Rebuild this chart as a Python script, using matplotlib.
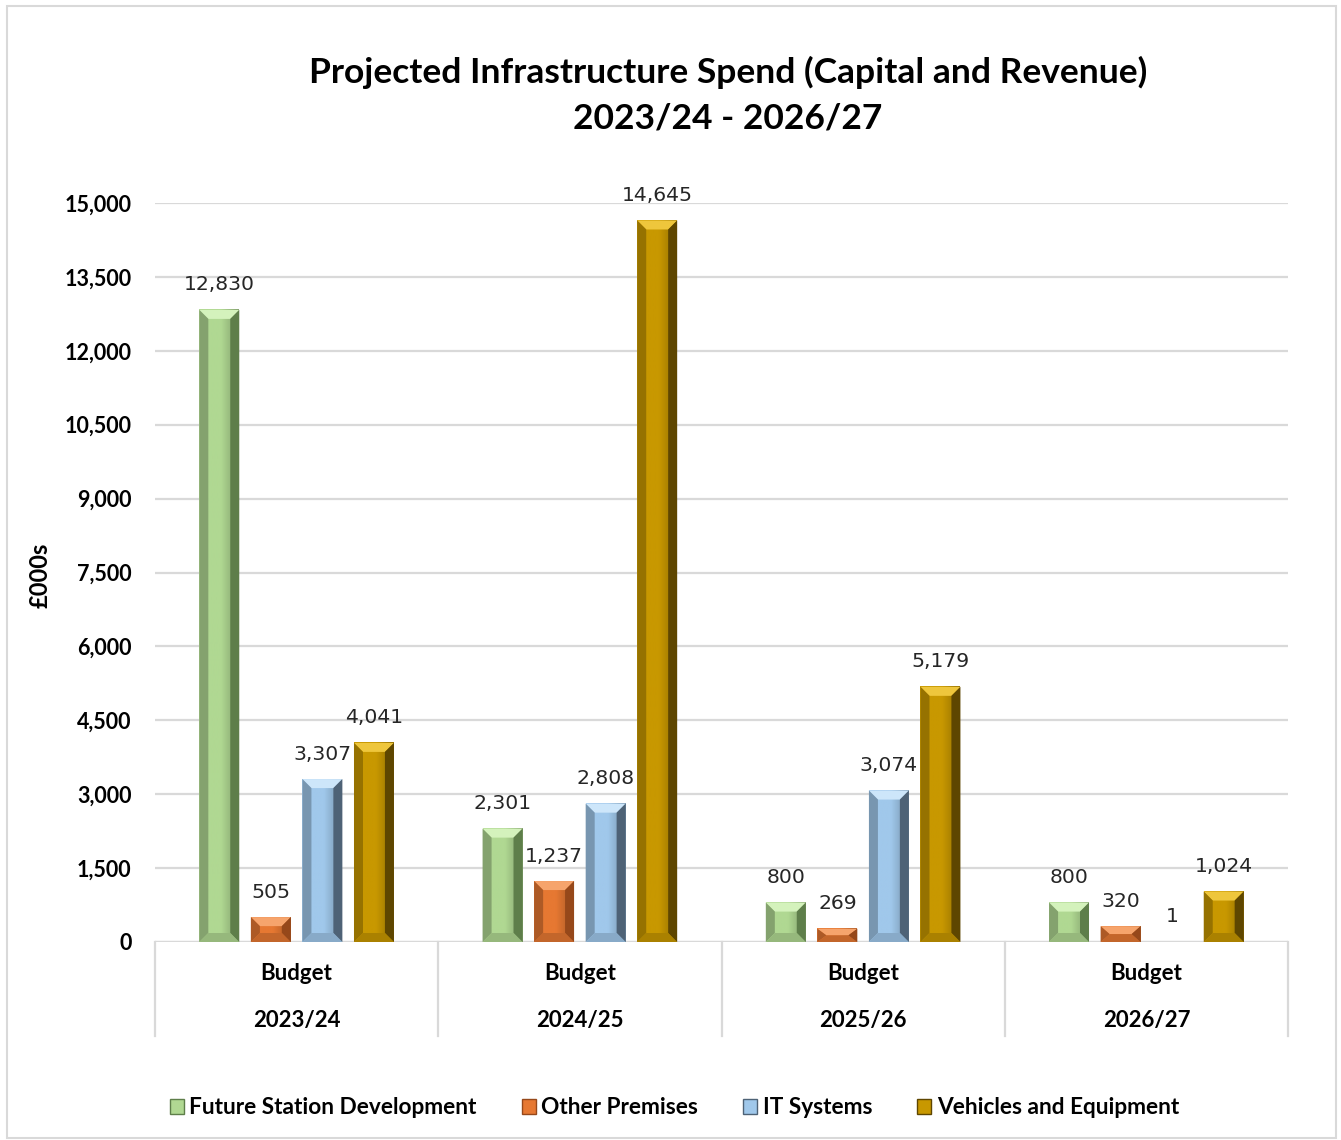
import matplotlib
matplotlib.use("Agg")
import matplotlib.pyplot as plt
import numpy as np
from matplotlib.patches import Polygon, Rectangle, Patch
from matplotlib.colors import to_rgb
import matplotlib.transforms as mtransforms

years = ["2023/24", "2024/25", "2025/26", "2026/27"]
series = ["Future Station Development", "Other Premises", "IT Systems", "Vehicles and Equipment"]
future_station = [12830, 2301, 800, 800]
other_premises = [505, 1237, 269, 320]
it_systems = [3307, 2808, 3074, 1]
vehicles = [4041, 14645, 5179, 1024]
values = [future_station, other_premises, it_systems, vehicles]

face_cols = ["#B0D892", "#E67832", "#A0C8EB", "#C89800"]
top_cols = ["#D4F2BC", "#F6A46C", "#CDE6FA", "#EEC63C"]
side_cols = ["#5E7E4A", "#96481A", "#4E6276", "#5E4600"]

BG = "#D9D9D9"
plt.rcParams["font.family"] = ["DejaVu Sans"]

fig = plt.figure(figsize=(13.41, 11.40), dpi=100)
ax = fig.add_axes([155 / 1341, 198 / 1140, 1133 / 1341, 739 / 1140])
ax.set_xlim(-0.5, 3.5)
ax.set_ylim(0, 15000)


def mix(c, other, t):
    a = np.array(to_rgb(c))
    b = np.array(to_rgb(other))
    return tuple(a * (1 - t) + b * t)


def bevel_bar(ax, x0, width, height, face, top, side, bev_px=9):
    p0 = ax.transData.transform((0, 0))
    p1 = ax.transData.transform((1, 1))
    bx = bev_px / (p1[0] - p0[0])
    if height * (p1[1] - p0[1]) < 1:
        return  # too thin to show
    by = min(bev_px / (p1[1] - p0[1]), height / 2)
    x1 = x0 + width
    y0, y1 = 0, height
    # face with shading towards the right edge
    grad = np.linspace(0, 1, 64)
    shade = np.array([mix(face, "black", max(0, g - 0.55) * 0.6) for g in grad])
    ax.imshow(shade[np.newaxis, :, :], extent=(x0, x1, y0, y1), aspect="auto",
              zorder=3, interpolation="bilinear")
    polys = [
        ([(x0, y1), (x1, y1), (x1 - bx, y1 - by), (x0 + bx, y1 - by)], top),
        ([(x0, y0), (x0, y1), (x0 + bx, y1 - by), (x0 + bx, y0 + by)], mix(face, "black", 0.25)),
        ([(x1, y0), (x1, y1), (x1 - bx, y1 - by), (x1 - bx, y0 + by)], side),
        ([(x0, y0), (x1, y0), (x1 - bx, y0 + by), (x0 + bx, y0 + by)], mix(face, "black", 0.15)),
    ]
    for pts, col in polys:
        ax.add_patch(Polygon(pts, closed=True, facecolor=col, edgecolor="none", zorder=4))


group_x = np.arange(len(years))
bar_w = 0.141
step = 0.182
for i, vals in enumerate(values):
    offs = (i - 1.5) * step
    for gx, v in zip(group_x, vals):
        x0 = gx + offs - bar_w / 2
        bevel_bar(ax, x0, bar_w, v, face_cols[i], top_cols[i], side_cols[i])
        ax.annotate(f"{v:,}", (gx + offs, v), xytext=(0, 18), textcoords="offset points",
                    ha="center", va="center", fontsize=14.7, color="#262626", zorder=6)

ax.set_yticks(np.arange(0, 15001, 1500))
ax.set_yticklabels([f"{t:,}" for t in range(0, 15001, 1500)], family="Lato",
                   fontweight="bold", fontsize=15.5)
ax.tick_params(axis="y", length=0, pad=17)
ax.set_xticks([])
ax.grid(axis="y", color=BG, linewidth=1.6, zorder=0)
ax.set_axisbelow(True)
for s in ax.spines.values():
    s.set_visible(False)
ax.axhline(0, color=BG, linewidth=1.6, zorder=2)

# category axis separators and two-level labels
trans = mtransforms.blended_transform_factory(ax.transData, ax.transAxes)
for xs in np.arange(-0.5, len(years), 1.0):
    ax.plot([xs, xs], [0, -94 / 739], transform=trans, color=BG, linewidth=1.6, clip_on=False)
for gx, yr in zip(group_x, years):
    ax.text(gx, -32 / 739, "Budget", transform=trans, ha="center", va="center",
            family="Lato", fontweight="bold", fontsize=16)
    ax.text(gx, -78 / 739, yr, transform=trans, ha="center", va="center",
            family="Lato", fontweight="bold", fontsize=16)

fig.text(0.543, 1 - 95 / 1140, "Projected Infrastructure Spend (Capital and Revenue)\n2023/24 - 2026/27",
         ha="center", va="center", family="Lato", fontweight="bold", fontsize=25.5, linespacing=1.5)
fig.text(40 / 1341, 1 - 575 / 1140, "£000s", rotation=90, ha="center", va="center",
         family="Lato", fontweight="bold", fontsize=17)

handles = [Patch(facecolor=face_cols[i], edgecolor=side_cols[i], linewidth=1) for i in range(4)]
fig.legend(handles, series, loc="center", bbox_to_anchor=(0.503, 1 - 1108 / 1140), ncol=4,
           frameon=False, handlelength=0.6, handleheight=0.6, handletextpad=0.25,
           columnspacing=2.0, prop={"family": "Lato", "weight": "bold", "size": 16.3})

fig.add_artist(Rectangle((7 / 1341, 2 / 1140), 1329 / 1341, 1132 / 1140, transform=fig.transFigure,
                         fill=False, edgecolor=BG, linewidth=1.5))

fig.savefig("out.png", dpi=100)
